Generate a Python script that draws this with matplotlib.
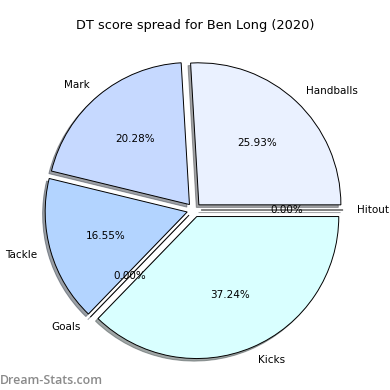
import matplotlib
matplotlib.use("Agg")
import matplotlib.pyplot as plt

labels = ["Handballs", "Mark", "Tackle", "Goals", "Kicks", "Hitout"]
values = [25.93, 20.28, 16.55, 0.0, 37.24, 0.0]
colors = ["#eaf1ff", "#c6d9ff", "#b3d4ff", "#b3d4ff", "#d9ffff", "#eaf1ff"]
explode = [0.05] * len(values)

fig = plt.figure(figsize=(3.9, 3.9), dpi=100)
ax = fig.add_axes([16.5 / 390, 2.5 / 390, 355 / 390, 355 / 390])

ax.pie(values, labels=labels, colors=colors, explode=explode,
       autopct="%1.2f%%", shadow={"ox": -0.013, "oy": -0.013},
       startangle=0,
       wedgeprops={"edgecolor": "black", "linewidth": 0.7},
       textprops={"fontsize": 7.5})

fig.suptitle("DT score spread for Ben Long (2020)", y=1 - 25 / 390,
             va="center", fontsize=9.3)
fig.text(0.0, 1 - 380 / 390, "Dream-Stats.com", color="#8a8a8a",
         fontsize=8.9, family="Open Sans", fontweight="semibold",
         ha="left", va="center")

fig.savefig("out.png", dpi=100)
